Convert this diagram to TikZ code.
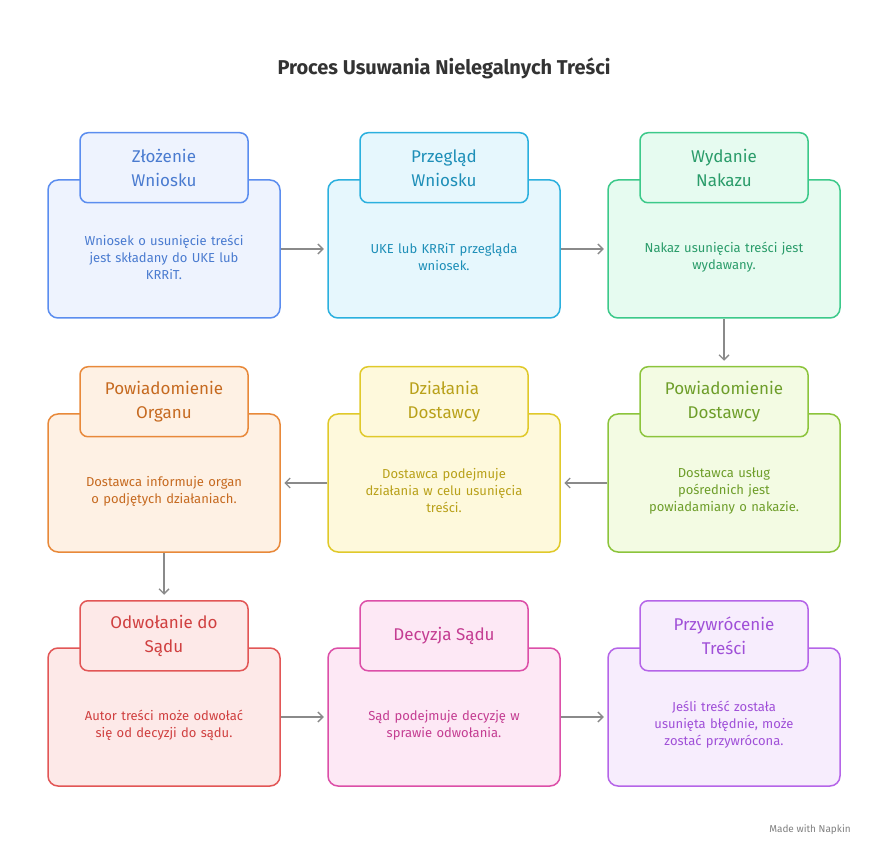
\documentclass[tikz,border=0pt]{standalone}
\usepackage{fontspec}
\setmainfont{Fira Sans}
\usetikzlibrary{positioning,arrows.meta}
\definecolor{cA}{HTML}{5B8DEF}\definecolor{fA}{HTML}{EEF3FE}\definecolor{tA}{HTML}{4A7BD0}
\definecolor{cB}{HTML}{2BB0DE}\definecolor{fB}{HTML}{E6F7FD}\definecolor{tB}{HTML}{1E8FB8}
\definecolor{cC}{HTML}{3CC98A}\definecolor{fC}{HTML}{E6FBF0}\definecolor{tC}{HTML}{2A9C6A}
\definecolor{cD}{HTML}{8CC43C}\definecolor{fD}{HTML}{F3FBE3}\definecolor{tD}{HTML}{6E9E2A}
\definecolor{cE}{HTML}{E0C92A}\definecolor{fE}{HTML}{FEF9DC}\definecolor{tE}{HTML}{B9A11A}
\definecolor{cF}{HTML}{E8893A}\definecolor{fF}{HTML}{FEF1E4}\definecolor{tF}{HTML}{C66A20}
\definecolor{cG}{HTML}{E25656}\definecolor{fG}{HTML}{FDE9E8}\definecolor{tG}{HTML}{D04040}
\definecolor{cH}{HTML}{DC4FA8}\definecolor{fH}{HTML}{FDE8F5}\definecolor{tH}{HTML}{C43D92}
\definecolor{cI}{HTML}{B565E8}\definecolor{fI}{HTML}{F7EDFD}\definecolor{tI}{HTML}{A050D8}
\definecolor{arrgray}{HTML}{8A8A8A}
\tikzset{every picture/.style={line width=1.5pt}}
\tikzset{
  cardbody/.style={draw=c#1,fill=f#1,text=t#1,rounded corners=10pt,minimum width=232pt,minimum height=138pt,
    align=center,text width=200pt,font=\fontsize{13pt}{17pt}\selectfont},
  cardtab/.style={draw=c#1,fill=f#1,text=t#1,rounded corners=8pt,minimum width=168pt,minimum height=70pt},
  flow/.style={draw=arrgray,line width=1.3pt,-{Straight Barb[length=5pt,width=10pt]}}
}
\newcommand{\card}[6]{%
  \node[cardbody=#4] (#1) at (#2,#3) {};
  \node[text=t#4,align=center,text width=200pt,font=\fontsize{13pt}{17pt}\selectfont] (#1b) at (#2,#3+8) {#6};
  \node[cardtab=#4,anchor=north] (#1t) at (#2,#3-117) {};
  \node[text=t#4,align=center,font=\fontsize{17pt}{24pt}\selectfont] (#1l) at (#2,#3-81) {#5};
}
\begin{document}
\begin{tikzpicture}[x=1pt,y=-1pt]
\useasboundingbox (0,0) rectangle (889,858);
\node[font=\bfseries\fontsize{20pt}{24pt}\selectfont,text=black!80] (title) at (444,68) {Proces Usuwania Nielegalnych Treści};
% row 1
\card{zloz}{164}{249}{A}{Złożenie\\Wniosku}{Wniosek o usunięcie treści\\jest składany do UKE lub\\KRRiT.}
\card{przeg}{444}{249}{B}{Przegląd\\Wniosku}{UKE lub KRRiT przegląda\\wniosek.}
\card{wyd}{724}{249}{C}{Wydanie\\Nakazu}{Nakaz usunięcia treści jest\\wydawany.}
% row 2
\card{powd}{724}{483}{D}{Powiadomienie\\Dostawcy}{Dostawca usług\\pośrednich jest\\powiadamiany o nakazie.}
\card{dzial}{444}{483}{E}{Działania\\Dostawcy}{Dostawca podejmuje\\działania w celu usunięcia\\treści.}
\card{powo}{164}{483}{F}{Powiadomienie\\Organu}{Dostawca informuje organ\\o podjętych działaniach.}
% row 3
\card{odw}{164}{717}{G}{Odwołanie do\\Sądu}{Autor treści może odwołać\\się od decyzji do sądu.}
\card{dec}{444}{717}{H}{Decyzja Sądu}{Sąd podejmuje decyzję w\\sprawie odwołania.}
\card{przyw}{724}{717}{I}{Przywrócenie\\Treści}{Jeśli treść została\\usunięta błędnie, może\\zostać przywrócona.}
% connectors
\draw[flow] (zloz.east) -- ([xshift=43pt]zloz.east);
\draw[flow] (przeg.east) -- ([xshift=43pt]przeg.east);
\draw[flow] (wyd.south) -- ([yshift=-42pt]wyd.south);
\draw[flow] (powd.west) -- ([xshift=-43pt]powd.west);
\draw[flow] (dzial.west) -- ([xshift=-43pt]dzial.west);
\draw[flow] (powo.south) -- ([yshift=-42pt]powo.south);
\draw[flow] (odw.east) -- ([xshift=43pt]odw.east);
\draw[flow] (dec.east) -- ([xshift=43pt]dec.east);
\node[text=black!50,font=\fontsize{10pt}{12pt}\selectfont] (made) at (810,830) {Made with Napkin};
\end{tikzpicture}
\end{document}
